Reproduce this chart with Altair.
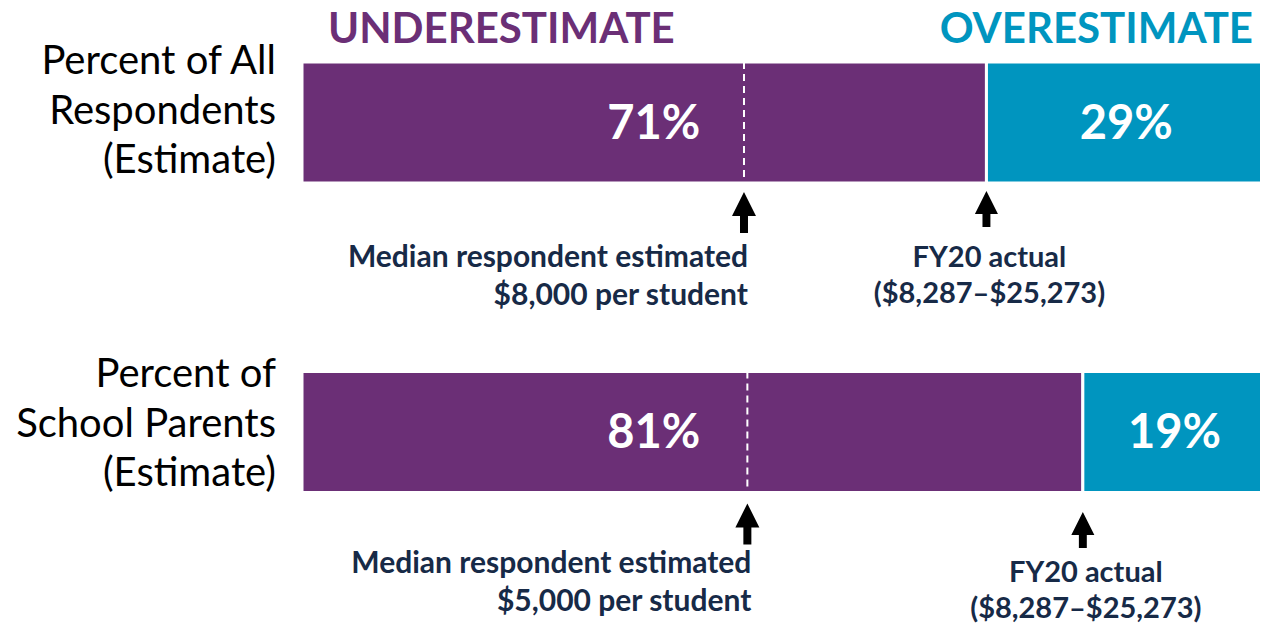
import altair as alt
import pandas as pd

# ---------------- data ----------------
groups = ["Percent of All\nRespondents\n(Estimate)", "Percent of\nSchool Parents\n(Estimate)"]
under_pct = [71, 81]
over_pct = [29, 19]
median_at = [45.85, 46.2]          # where the median estimate falls on the bar (% of respondents)
median_labels = ["Median respondent estimated\n$8,000 per student",
                 "Median respondent estimated\n$5,000 per student"]
actual_labels = ["FY20 actual\n($8,287–$25,273)", "FY20 actual\n($8,287–$25,273)"]
headers = ["UNDERESTIMATE", "OVERESTIMATE"]

# ---------------- style / layout ----------------
PURPLE = "#6B2F76"
TEAL = "#0095BF"
NAVY = "#172A47"
FONT = "Lato"
W, H = 1252, 617
ROW_PX = 309.5                      # pixel distance between the two bar centres
BAR_HALF = 60.5                     # half bar thickness in px
# pixel offsets from bar centre (per row)
median_arrow_off = [90, 92]
actual_arrow_off = [86.5, 98]
median_text_off = [144.5, 140.5]
actual_text_off = [144.5, 150]
row_label_off = [-60.5, -57]

xs = alt.Scale(domain=[0, 100], range=[294, 1258], nice=False, zero=False)
ys = alt.Scale(domain=[0, 1], range=[114.5, 114.5 + ROW_PX], nice=False, zero=False)

def X(f):
    return alt.X(f, type="quantitative", scale=xs, axis=None)

def Y(f):
    return alt.Y(f, type="quantitative", scale=ys, axis=None)

# bars
seg_rows = []
for i in range(len(groups)):
    seg_rows.append(dict(row=i, start=0, end=under_pct[i], seg="under",
                         label=f"{under_pct[i]}%", lx=36.5))
    seg_rows.append(dict(row=i, start=under_pct[i], end=100, seg="over",
                         label=f"{over_pct[i]}%", lx=under_pct[i] + over_pct[i] / 2))
seg = pd.DataFrame(seg_rows)
seg["y0"] = seg["row"] - BAR_HALF / ROW_PX
seg["y1"] = seg["row"] + BAR_HALF / ROW_PX

bars = alt.Chart(seg).mark_rect(stroke="white", strokeWidth=3).encode(
    x=X("start"), x2="end", y=Y("y0"), y2="y1",
    color=alt.Color("seg:N", scale=alt.Scale(domain=["under", "over"], range=[PURPLE, TEAL]), legend=None),
)
pct = alt.Chart(seg).mark_text(font=FONT, fontSize=47, fontWeight="bold", color="white",
                               baseline="middle", dy=2).encode(
    x=X("lx"), y=Y("row"), text="label:N")

# annotations table
ann = pd.DataFrame(dict(
    row=list(range(len(groups))),
    group=groups,
    median=median_at,
    actual=under_pct,
    mtext=median_labels,
    atext=actual_labels,
    zero=[0] * len(groups),
))
ann["y0"] = ann["row"] - BAR_HALF / ROW_PX
ann["y1"] = ann["row"] + BAR_HALF / ROW_PX
ann["ma_y"] = ann["row"] + pd.Series(median_arrow_off) / ROW_PX
ann["aa_y"] = ann["row"] + pd.Series(actual_arrow_off) / ROW_PX
ann["mt_y"] = ann["row"] + pd.Series(median_text_off) / ROW_PX
ann["at_y"] = ann["row"] + pd.Series(actual_text_off) / ROW_PX
ann["rl_y"] = ann["row"] + pd.Series(row_label_off) / ROW_PX

dashes = alt.Chart(ann).mark_rule(color="white", strokeWidth=2, strokeDash=[7, 5]).encode(
    x=X("median"), y=Y("y0"), y2="y1")

ARROW_LONG = "M0,-1L0.585,0.17L0.195,0.17L0.195,1L-0.195,1L-0.195,0.17L-0.585,0.17Z"
ARROW_SHORT = "M0,-1L0.64,0.28L0.22,0.28L0.22,1L-0.22,1L-0.22,0.28L-0.64,0.28Z"

m_arrow = alt.Chart(ann).mark_point(shape=ARROW_LONG, filled=True, color="black", opacity=1,
                                    size=41 * 41, strokeWidth=0).encode(x=X("median"), y=Y("ma_y"))
a_arrow = alt.Chart(ann).mark_point(shape=ARROW_SHORT, filled=True, color="black", opacity=1,
                                    size=36 * 36, strokeWidth=0).encode(x=X("actual"), y=Y("aa_y"))

m_text = alt.Chart(ann).mark_text(align="right", baseline="alphabetic", lineBreak="\n", lineHeight=38,
                                  font=FONT, fontWeight="bold", fontSize=30, color=NAVY, dx=4).encode(
    x=X("median"), y=Y("mt_y"), text="mtext:N")
a_text = alt.Chart(ann).mark_text(align="center", baseline="alphabetic", lineBreak="\n", lineHeight=36,
                                  font=FONT, fontWeight="bold", fontSize=29, color=NAVY, dx=3).encode(
    x=X("actual"), y=Y("at_y"), text="atext:N")

row_lab = alt.Chart(ann).mark_text(align="right", baseline="middle", lineBreak="\n", lineHeight=49.5,
                                   font=FONT, fontSize=40, color="black", dx=-26).encode(
    x=X("zero"), y=Y("rl_y"), text="group:N")

hdr = pd.DataFrame(dict(text=headers, x=[0, 100], row=[0, 0]))
hdr["y"] = hdr["row"] - 79.5 / ROW_PX
h_left = alt.Chart(hdr[hdr["x"] == 0]).mark_text(align="left", baseline="alphabetic", font=FONT,
                                                 fontWeight="bold", fontSize=42, color=PURPLE, dx=26).encode(
    x=X("x"), y=Y("y"), text="text:N")
h_right = alt.Chart(hdr[hdr["x"] == 100]).mark_text(align="right", baseline="alphabetic", font=FONT,
                                                    fontWeight="bold", fontSize=42, color=TEAL, dx=-13).encode(
    x=X("x"), y=Y("y"), text="text:N")

chart = alt.layer(bars, dashes, pct, m_arrow, a_arrow, m_text, a_text, row_lab, h_left, h_right).properties(
    width=W, height=H, autosize=alt.AutoSizeParams(type="none"), padding=0, background="white"
).configure_view(stroke=None)

chart.save("out.html", embed_options={"renderer": "svg", "actions": False})
